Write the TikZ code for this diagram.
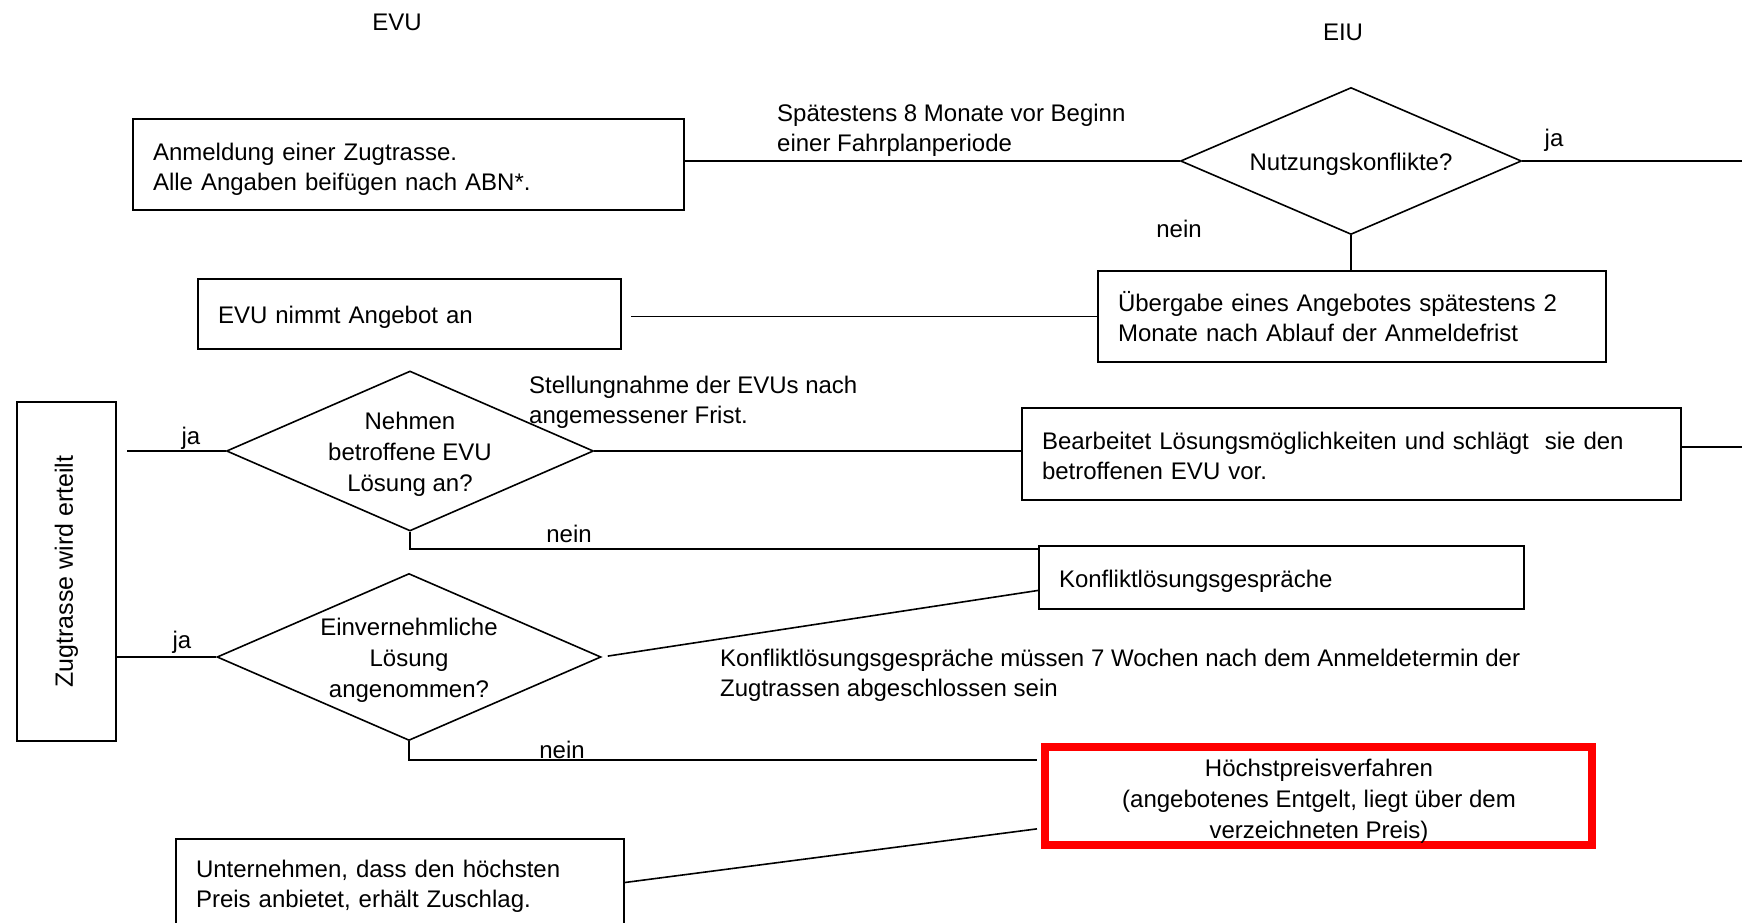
\documentclass[tikz,border=0pt]{standalone}
\usepackage{fontspec}
\setmainfont{Liberation Sans}
\usetikzlibrary{shapes.geometric,calc}
\begin{document}
\begin{tikzpicture}[x=1pt,y=-1pt,
  every node/.style={font=\fontsize{24}{30}\selectfont},
  box/.style={draw, line width=1.6pt, rectangle, inner xsep=20pt, inner ysep=0pt, align=left,
    execute at begin node={\rule{0pt}{#1}}},
  box/.default=0pt,
  redbox/.style={draw=red, line width=8pt, rectangle, inner sep=0pt, align=center},
  dia/.style={draw, line width=1.6pt, diamond, inner sep=0pt},
  diatext/.style={align=center, inner sep=0pt, font=\fontsize{24}{31}\selectfont},
  conn/.style={line width=1.6pt},
  lbl/.style={inner sep=0pt, align=left}]
\clip (0,0) rectangle (1742,923);
\useasboundingbox (0,0) rectangle (1742,923);

% column headers
\node[lbl] (evu) at (397,22) {EVU};
\node[lbl] (eiu) at (1343,32) {EIU};

% boxes
\node[box=26.5pt, text width=511pt, minimum height=91pt] (box1) at (408.5,164.5)
  {Anmeldung einer Zugtrasse.\\Alle Angaben beifügen nach ABN*.};
\node[box=24pt, text width=383pt, minimum height=70pt] (box2) at (409.5,314)
  {EVU nimmt Angebot an};
\node[box, text width=468pt, minimum height=91pt] (box3) at (1352,316.5)
  {Übergabe eines Angebotes spätestens 2\\Monate nach Ablauf der Anmeldefrist};
\node[box=22pt, text width=619pt, minimum height=92pt] (box4) at (1351.5,454)
  {Bearbeitet Lösungsmöglichkeiten und schlägt \ sie den\\betroffenen EVU vor.};
\node[box=24pt, text width=445pt, minimum height=63pt] (box5) at (1281.5,577.5)
  {Konfliktlösungsgespräche};
\node[redbox, minimum width=547pt, minimum height=98pt] (box6) at (1318.5,796)
  {};
\node[diatext] (box6t) at (1319,801)
  {Höchstpreisverfahren\\(angebotenes Entgelt, liegt über dem\\verzeichneten Preis)};
\node[box=24pt, text width=408pt, minimum height=87pt] (box7) at (400,882.5)
  {Unternehmen, dass den höchsten\\Preis anbietet, erhält Zuschlag.};
\node[draw, line width=1.6pt, rotate=90, minimum width=339pt, minimum height=99pt, inner sep=0pt,
  font=\fontsize{25}{30}\selectfont] (zug) at (66.5,571.5)
  {Zugtrasse wird erteilt};

% diamonds
\node[dia, minimum width=341pt, minimum height=147pt] (d1) at (1351,161) {};
\node[diatext] (d1t) at (1351,164.5) {Nutzungskonflikte?};
\node[dia, minimum width=367pt, minimum height=160pt] (d2) at (410,451) {};
\node[diatext] (d2t) at (410,454.5) {Nehmen\\betroffene EVU\\Lösung an?};
\node[dia, minimum width=384pt, minimum height=167pt] (d3) at (409,657) {};
\node[diatext] (d3t) at (409,660.5) {Einvernehmliche\\Lösung\\angenommen?};

% free ends
\coordinate (rEdge1) at (1742,160);
\coordinate (rEdge2) at (1742,447);

% connectors
\draw[conn] (box1.east |- d1.west) -- (d1.west);
\draw[conn] (d1.east) -- (d1.east -| rEdge1);
\draw[conn] (d1.south) -- (d1.south |- box3.north);
\draw[conn, shorten >=9pt] (box3.west) -- (box3.west -| box2.east);
\draw[conn] (d2.east) -- (d2.east -| box4.west);
\draw[conn] (box4.east |- rEdge2) -- (rEdge2);
\draw[conn, shorten >=10pt] (d2.west) -- (d2.west -| zug.south);
\draw[conn] (d2.south) |- ($(box5.north west)+(0,4)$);
\draw[conn] (d3.west) -- (d3.west -| zug.south);
\draw[conn, shorten <=6pt] (d3.east) -- ($(box5.south west)!0.3!(box5.north west)$);
\draw[conn] (d3.south) |- ($(box6.north west)+(-4,17)$);
\draw[conn] ($(box6.south west)!0.19!(box6.north west)+(-4,0)$) -- (box7.east);

% labels
\node[lbl, anchor=west] (l1) at (777,130) {Spätestens 8 Monate vor Beginn\\einer Fahrplanperiode};
\node[lbl] (ja1) at (1554,140.5) {ja};
\node[lbl] (nein1) at (1179,229) {nein};
\node[lbl, anchor=west] (l2) at (529,402.5) {Stellungnahme der EVUs nach\\angemessener Frist.};
\node[lbl] (ja2) at (191,438) {ja};
\node[lbl] (nein2) at (569,534) {nein};
\node[lbl] (ja3) at (182,642) {ja};
\node[lbl, anchor=west] (l3) at (720,675) {Konfliktlösungsgespräche müssen 7 Wochen nach dem Anmeldetermin der\\Zugtrassen abgeschlossen sein};
\node[lbl] (nein3) at (562,750) {nein};
\end{tikzpicture}
\end{document}
